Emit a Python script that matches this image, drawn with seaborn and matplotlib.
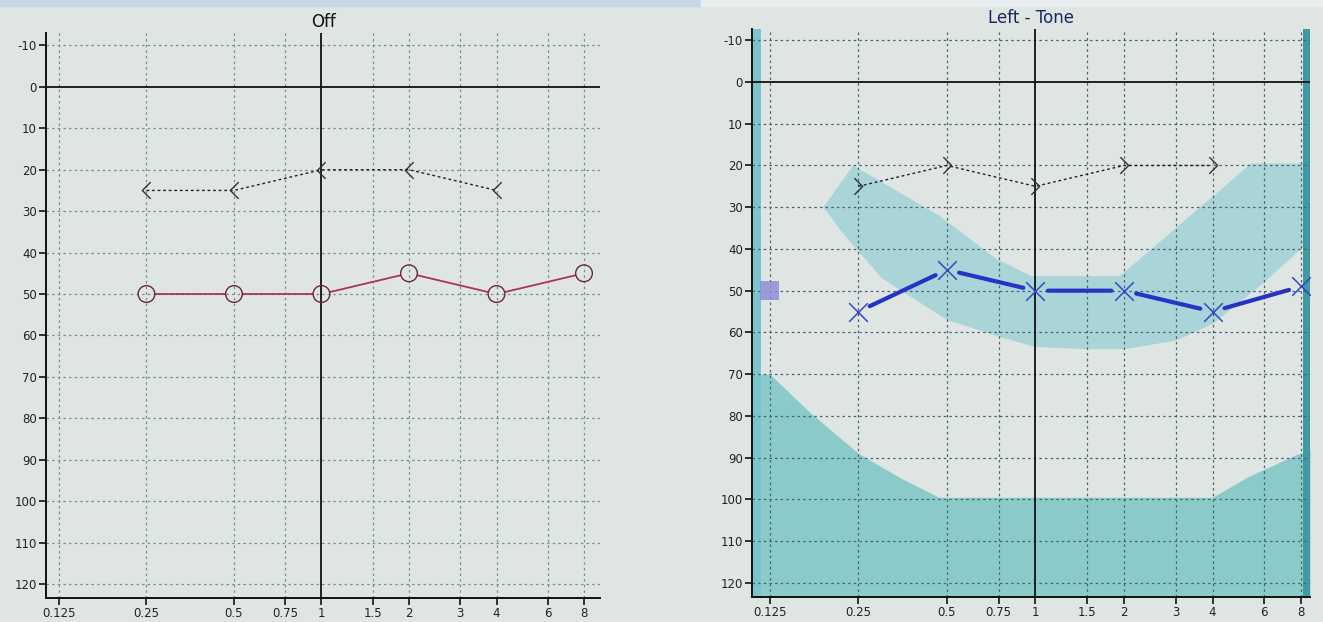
import numpy as np
import pandas as pd
import matplotlib
matplotlib.use("Agg")
import matplotlib.pyplot as plt
import seaborn as sns
from matplotlib.path import Path
from matplotlib.patches import Rectangle

# ---------------- data ----------------
freq_ticks = [0.125, 0.25, 0.5, 0.75, 1, 1.5, 2, 3, 4, 6, 8]
freq_labels = ["0.125", "0.25", "0.5", "0.75", "1", "1.5", "2", "3", "4", "6", "8"]
db_ticks = [-10, 0, 10, 20, 30, 40, 50, 60, 70, 80, 90, 100, 110, 120]
db_labels = ["-10", "0", "10", "20", "30", "40", "50", "60", "70", "80", "90", "100", "110", "120"]

# "Off" panel
off_air_freq = [0.25, 0.5, 1, 2, 4, 8]
off_air_db = [50, 50, 50, 45, 50, 45]
off_bone_freq = [0.25, 0.5, 1, 2, 4]
off_bone_db = [25, 25, 20, 20, 25]

# "Left - Tone" panel
left_air_freq = [0.25, 0.5, 1, 2, 4, 8]
left_air_db = [55, 45, 50, 50, 55, 49]
left_bone_freq = [0.25, 0.5, 1, 2, 4]
left_bone_db = [25, 20, 25, 20, 20]
left_mask_freq = [0.125]
left_mask_db = [50]

# shaded zones (freq kHz, dB HL)
band_top_freq = [0.19, 0.24, 0.47, 0.74, 0.97, 1.94, 3, 4, 5.4, 8.58]
band_top_db = [30, 20, 32, 42.5, 46.5, 46.5, 35, 27.5, 19.5, 19.5]
band_bot_freq = [0.19, 0.22, 0.3, 0.5, 0.75, 1, 1.5, 2, 3, 4, 6, 8, 8.58]
band_bot_db = [30, 36, 47, 57, 61, 63.5, 64, 64, 62, 58, 48, 40, 37]
deep_freq = [0.1087, 0.125, 0.17, 0.25, 0.35, 0.47, 4, 5.3, 7.7, 8.58]
deep_db = [70, 70, 79, 89, 95, 99.5, 99.5, 94.5, 89.3, 88]

# ---------------- style ----------------
sns.set_theme(style="white")
plt.rcParams['font.family'] = ['DejaVu Sans']

BG = "#dfe5e3"
fig = plt.figure(figsize=(13.23, 6.22), dpi=100, facecolor=BG)
fig.add_artist(Rectangle((0, 0.99), 0.53, 0.01, transform=fig.transFigure,
                         color="#c6d7e6", zorder=0))
fig.add_artist(Rectangle((0.53, 0.99), 0.47, 0.01, transform=fig.transFigure,
                         color="#e8eef0", zorder=0))

ax1 = fig.add_axes([46 / 1323, 24.3 / 622, 554 / 1323, 564.7 / 622])
ax2 = fig.add_axes([752 / 1323, 25 / 622, 558 / 1323, 568 / 622])

chev_left = Path([(0.5, 1), (-0.5, 0), (0.5, -1)], [Path.MOVETO, Path.LINETO, Path.LINETO])
chev_right = Path([(-0.5, 1), (0.5, 0), (-0.5, -1)], [Path.MOVETO, Path.LINETO, Path.LINETO])


def base_axes(ax, xlim, ylim, grid_color, title, title_color):
    ax.set_facecolor(BG)
    ax.set_xscale("log", base=2)
    ax.set_xlim(*xlim)
    ax.set_ylim(*ylim)
    ax.set_xticks(freq_ticks)
    ax.set_xticklabels(freq_labels)
    ax.xaxis.set_minor_locator(matplotlib.ticker.NullLocator())
    ax.set_yticks(db_ticks)
    ax.set_yticklabels(db_labels)
    for s in ["top", "right"]:
        ax.spines[s].set_visible(False)
    for s in ["left", "bottom"]:
        ax.spines[s].set_color("#111111")
        ax.spines[s].set_linewidth(1.4)
    ax.tick_params(axis="both", direction="out", length=5, width=1.2, color="#111111",
                   labelsize=8.5, labelcolor="#222222", pad=1.5, bottom=True, left=True)
    for f in freq_ticks:
        if f != 1:
            ax.axvline(f, color=grid_color, lw=0.9, ls=(0, (2, 2.5)), zorder=1)
    for d in db_ticks:
        if d != 0:
            ax.axhline(d, color=grid_color, lw=0.9, ls=(0, (2, 2.5)), zorder=1)
    ax.axhline(0, color="#111111", lw=1.3, zorder=2)
    ax.axvline(1, color="#111111", lw=1.3, zorder=2)
    ax.set_title(title, fontsize=12, color=title_color, pad=4)
    ax.set_xlabel("")
    ax.set_ylabel("")


def segments(ax, fx, dy, color, lw, shrink, ls="-"):
    for i in range(len(fx) - 1):
        ax.annotate("", xy=(fx[i + 1], dy[i + 1]), xytext=(fx[i], dy[i]),
                    arrowprops=dict(arrowstyle="-", color=color, lw=lw, linestyle=ls,
                                    shrinkA=shrink, shrinkB=shrink), zorder=4)


# ---------- left panel: Off ----------
base_axes(ax1, (0.1128, 9.08), (123.3, -13), "#7a8c9b", "Off", "#111111")
segments(ax1, off_air_freq, off_air_db, "#a8364f", 1.3, 6.5)
sns.scatterplot(x=off_air_freq, y=off_air_db, ax=ax1, marker="o", s=145,
                facecolors="none", edgecolor="#6a2834", linewidth=1.0, zorder=5)
sns.lineplot(x=off_bone_freq, y=off_bone_db, ax=ax1, color="#222222", lw=1.0,
             linestyle=(0, (2, 2)), marker=chev_left, markersize=12,
             markerfacecolor="none", markeredgecolor="#333333", markeredgewidth=1.0,
             zorder=5, sort=False)

# ---------- right panel: Left - Tone ----------
base_axes(ax2, (0.1087, 8.58), (123.4, -12.7), "#4e5f70", "Left - Tone", "#1a2860")
ax2.fill(band_top_freq + band_bot_freq[::-1], band_top_db + band_bot_db[::-1],
         color="#a9d5d8", lw=0, zorder=0.5)
ax2.fill_between(deep_freq, deep_db, 130, color="#8acbca", lw=0, zorder=0.5)
ax2.axvspan(0.1087, 0.1165, color="#7cc4cb", lw=0, zorder=0.6)
ax2.axvspan(8.1, 8.58, color="#3f9aa3", lw=0, zorder=0.6)
sns.scatterplot(x=left_mask_freq, y=left_mask_db, ax=ax2, marker="s", s=190,
                color="#8e90d8", edgecolor="none", alpha=0.85, zorder=3)
segments(ax2, left_air_freq, left_air_db, "#2733c4", 3.0, 9)
sns.scatterplot(x=left_air_freq, y=left_air_db, ax=ax2, marker="x", s=180,
                color="#3547c8", linewidth=1.1, zorder=5)
sns.lineplot(x=left_bone_freq, y=left_bone_db, ax=ax2, color="#222222", lw=1.0,
             linestyle=(0, (2, 2)), marker=chev_right, markersize=12,
             markerfacecolor="none", markeredgecolor="#333333", markeredgewidth=1.0,
             zorder=5, sort=False)

fig.savefig("out.png", dpi=100, facecolor=BG)
